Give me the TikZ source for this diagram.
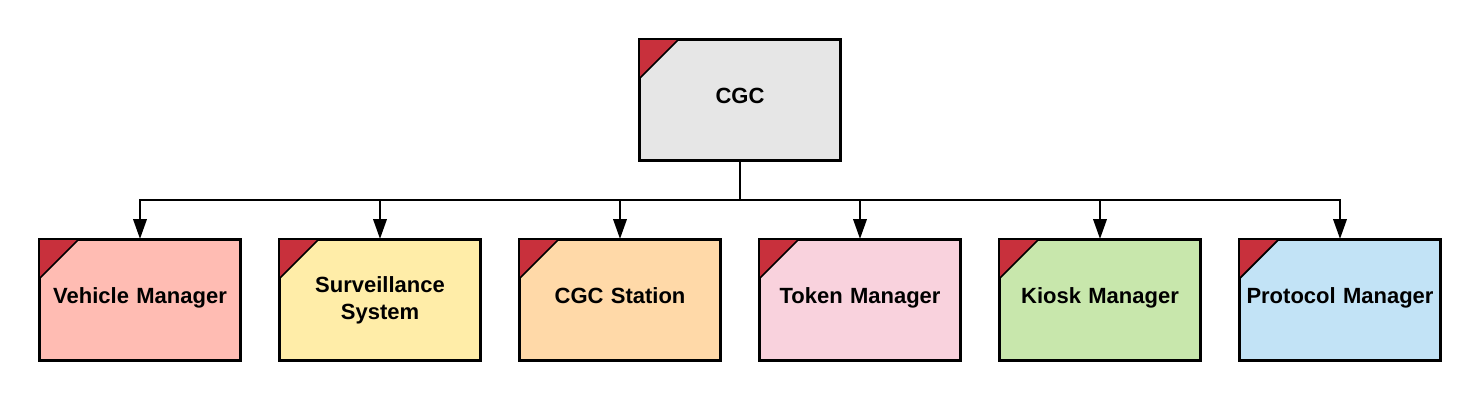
\documentclass[tikz,border=0pt]{standalone}
\usepackage{fontspec}
\setmainfont{Liberation Sans}
\usetikzlibrary{arrows.meta}
\definecolor{cred}{HTML}{C8303C}
\definecolor{cgray}{HTML}{E6E6E6}
\definecolor{cpink}{HTML}{FFBCB3}
\definecolor{cyellow}{HTML}{FFEDA8}
\definecolor{corange}{HTML}{FFD9A8}
\definecolor{crose}{HTML}{F9D2DD}
\definecolor{cgreen}{HTML}{C8E7AC}
\definecolor{cblue}{HTML}{C2E3F6}
\tikzset{
  mod/.style={draw=black, line width=1.5pt, minimum width=150pt, minimum height=90pt, inner sep=0pt, align=center, font=\bfseries\fontsize{16.5}{20}\selectfont, text width=150pt},
  conn/.style={line width=2pt, -{Triangle[length=15pt,width=10pt]}},
}
\newcommand{\corner}[1]{\fill[cred] (#1.north west) -- ++(30pt,0) -- ++(-30pt,-30pt) -- cycle;
  \draw[line width=1.3pt] ([xshift=30pt]#1.north west) -- ([yshift=-30pt]#1.north west);
  \draw[line width=1.5pt] (#1.north west) rectangle (#1.south east);}
\newcommand{\lbl}[1]{\raisebox{1.5pt}[14pt][6pt]{#1}}
\begin{document}
\begin{tikzpicture}[x=0.75pt,y=-0.75pt]
\useasboundingbox (0,0) rectangle (1480,400);
\node[mod, fill=cgray] (cgc) at (740,100) {\lbl{CGC}};
\node[mod, fill=cpink] (vm) at (140,300) {\lbl{Vehicle Manager}};
\node[mod, fill=cyellow] (ss) at (380,300) {Surveillance\\System};
\node[mod, fill=corange] (cs) at (620,300) {\lbl{CGC Station}};
\node[mod, fill=crose] (tm) at (860,300) {\lbl{Token Manager}};
\node[mod, fill=cgreen] (km) at (1100,300) {\lbl{Kiosk Manager}};
\node[mod, fill=cblue] (pm) at (1340,300) {\lbl{Protocol Manager}};
\foreach \n in {cgc,vm,ss,cs,tm,km,pm}{\corner{\n}}
\coordinate (bus) at (740,200);
\foreach \n in {vm,ss,cs,tm,km,pm}{
  \draw[conn] (cgc.south) -- (bus) -| (\n.north);
}
\end{tikzpicture}
\end{document}
